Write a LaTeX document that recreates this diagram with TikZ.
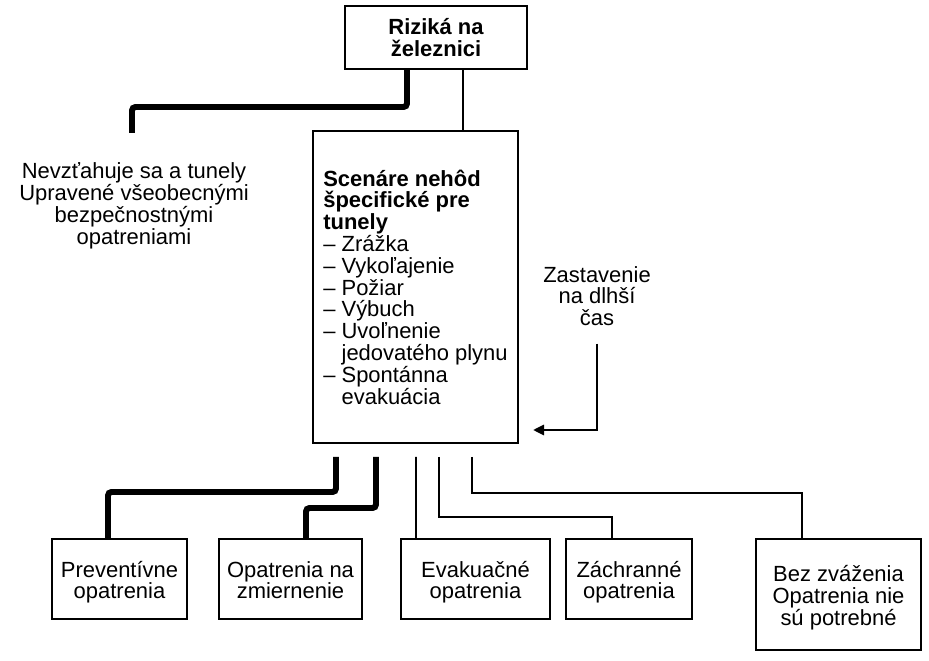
\documentclass[tikz,border=0pt]{standalone}
\usepackage{fontspec}
\setmainfont{Liberation Sans}
\usetikzlibrary{arrows.meta}
\newcommand{\boxlines}[1]{\rule{0pt}{14pt}#1\strut}
\begin{document}
\begin{tikzpicture}[x=0.02cm,y=-0.02cm,
    box/.style={draw,line width=1.1pt,align=center,inner sep=0pt,font=\fontsize{12.5}{12.4}\selectfont},
    lbl/.style={align=center,inner sep=0pt,font=\fontsize{12.5}{12.4}\selectfont},
    link/.style={line width=1.1pt},
    heavy/.style={line width=3.4pt,rounded corners=2pt}]
    \useasboundingbox (0,0) rectangle (929,661);
    % boxes
    \node[box,minimum width=3.64cm,minimum height=1.26cm,font=\fontsize{12.5}{12.4}\selectfont\bfseries] (rail) at (436,37.5) {Riziká na\\železnici};
    \node[box,align=left,minimum width=4.1cm,minimum height=6.24cm] (main) at (415.5,287) {{\bfseries Scenáre nehôd}\\{\bfseries špecifické pre}\\{\bfseries tunely}\\– Zrážka\\– Vykoľajenie\\– Požiar\\– Výbuch\\– Uvoľnenie\\\hphantom{– }jedovatého plynu\\– Spontánna\\\hphantom{– }evakuácia};
    \node[box,minimum width=2.7cm,minimum height=1.6cm] (prev) at (119.5,579) {\boxlines{Preventívne\\opatrenia}};
    \node[box,minimum width=2.86cm,minimum height=1.6cm] (mitig) at (290.5,579) {\boxlines{Opatrenia na\\zmiernenie}};
    \node[box,minimum width=2.98cm,minimum height=1.6cm] (evac) at (475.5,579) {\boxlines{Evakuačné\\opatrenia}};
    \node[box,minimum width=2.52cm,minimum height=1.6cm] (rescue) at (629,579) {\boxlines{Záchranné\\opatrenia}};
    \node[box,minimum width=3.3cm,minimum height=2.22cm] (none) at (838.5,594.5) {\boxlines{Bez zváženia\\Opatrenia nie\\sú potrebné}};
    % free texts
    \node[lbl] (general) at (134,206) {Nevzťahuje sa a tunely\\Upravené všeobecnými\\bezpečnostnými\\opatreniami};
    \node[lbl] (stop) at (597,296) {Zastavenie\\na dlhší\\čas};
    \coordinate (gentop) at (132,133); \coordinate (stopend) at (533,430);
    \coordinate (m1) at (336,457); \coordinate (m2) at (376,457); \coordinate (m3) at (416,457);
    \coordinate (m4) at (439,457); \coordinate (m5) at (472,457);
    % connectors
    \draw[heavy] ([xshift=-0.58cm]rail.south) |- (132,107) -- (gentop);
    \draw[link] ([xshift=0.54cm]rail.south) -- ([xshift=0.95cm]main.north);
    \draw[line width=1.5pt,-{Triangle[length=0.22cm,width=0.2cm]}] ([yshift=-0.35cm]stop.south) |- (stopend);
    \draw[heavy] (m1) -- (336,492) -| ([xshift=-0.23cm]prev.north);
    \draw[heavy] (m2) -- (376,508) -| ([xshift=0.31cm]mitig.north);
    \draw[link] (m3) -- ([xshift=-1.19cm]evac.north);
    \draw[link] (m4) -- (439,517) -| ([xshift=-0.34cm]rescue.north);
    \draw[link] (m5) -- (472,493) -| ([xshift=-0.73cm]none.north);
\end{tikzpicture}
\end{document}
